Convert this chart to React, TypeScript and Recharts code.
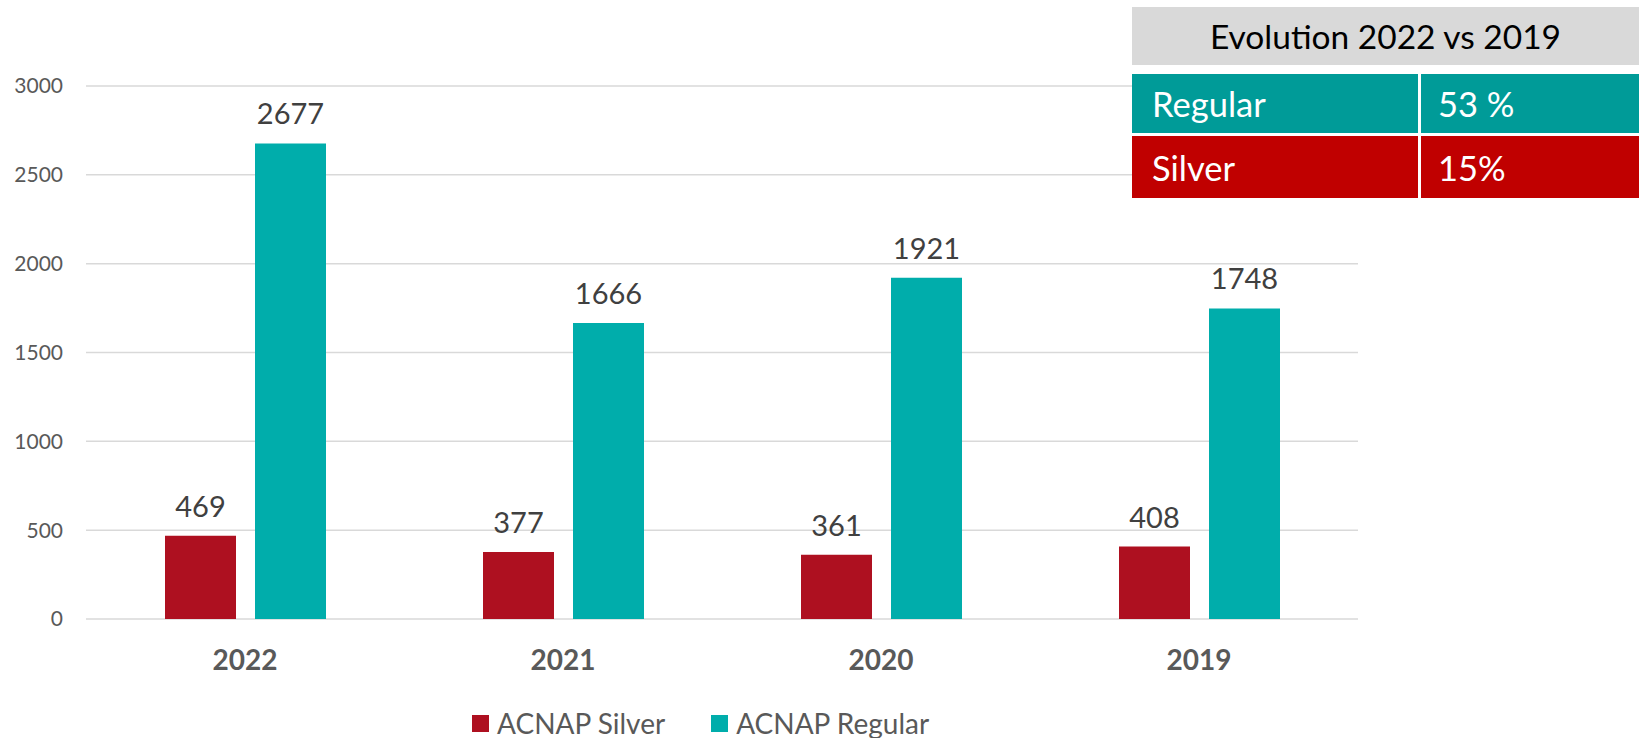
import React from 'react';
import { BarChart, Bar, XAxis, YAxis, CartesianGrid, Legend, LabelList } from 'recharts';

// Values
const years = ['2022', '2021', '2020', '2019'];
const silver = [469, 377, 361, 408];
const regular = [2677, 1666, 1921, 1748];
const yTicks = [0, 500, 1000, 1500, 2000, 2500, 3000];

const evolutionTitle = 'Evolution 2022 vs 2019';
const evolutionRows = [
  { name: 'Regular', value: '53 %', color: '#009b98' },
  { name: 'Silver', value: '15%', color: '#c00000' },
];

const SILVER = '#ae1020';
const REGULAR = '#00adab';
const FONT = 'Lato, "Open Sans", sans-serif';

const data = years.map((y, i) => ({ year: y, silver: silver[i], regular: regular[i] }));

const legendItems = [
  { label: 'ACNAP Silver', color: SILVER },
  { label: 'ACNAP Regular', color: REGULAR },
];

const renderLegend = () => (
  <div style={{ display: 'flex', alignItems: 'center', fontFamily: FONT, fontSize: 28, color: '#595959' }}>
    {legendItems.map((it, i) => (
      <div key={it.label} style={{ display: 'flex', alignItems: 'center', marginRight: i === 0 ? 46 : 0 }}>
        <span style={{ display: 'inline-block', width: 17, height: 17, background: it.color, marginRight: 8 }} />
        <span>{it.label}</span>
      </div>
    ))}
  </div>
);

export default function App() {
  return (
    <div style={{ position: 'absolute', left: 0, top: 0, width: 1639, height: 738, background: '#fff' }}>
      <BarChart
        width={1639}
        height={738}
        data={data}
        margin={{ top: 86, right: 281, bottom: 79, left: 0 }}
        barGap={19}
        barSize={71}
      >
        <CartesianGrid vertical={false} stroke="#d9d9d9" strokeWidth={1.5} />
        <XAxis
          dataKey="year"
          height={40}
          axisLine={false}
          tickLine={false}
          tickSize={0}
          tickMargin={31}
          tick={{ fontFamily: FONT, fontSize: 28, fontWeight: 700, fill: '#595959' }}
        />
        <YAxis
          width={86}
          domain={[0, 3000]}
          ticks={yTicks}
          axisLine={false}
          tickLine={false}
          tickSize={0}
          tickMargin={23}
          tick={{ fontFamily: FONT, fontSize: 21, fill: '#595959' }}
        />
        <Legend
          layout="horizontal"
          verticalAlign="middle"
          align="center"
          content={renderLegend}
          wrapperStyle={{ top: 706, left: 472, width: 560, height: 34 }}
        />
        <Bar dataKey="silver" name="ACNAP Silver" fill={SILVER} isAnimationActive={false}>
          <LabelList dataKey="silver" position="top" offset={19} style={{ fontFamily: FONT, fontSize: 29, fill: '#404040' }} />
        </Bar>
        <Bar dataKey="regular" name="ACNAP Regular" fill={REGULAR} isAnimationActive={false}>
          <LabelList dataKey="regular" position="top" offset={19} style={{ fontFamily: FONT, fontSize: 29, fill: '#404040' }} />
        </Bar>
      </BarChart>

      {/* evolution table, top right */}
      <div style={{ position: 'absolute', left: 1132, top: 7, width: 507, fontFamily: FONT, background: '#fff' }}>
        <div style={{ height: 58, background: '#d9d9d9', display: 'flex', alignItems: 'center', justifyContent: 'center', fontSize: 33.5, color: '#000' }}>
          {evolutionTitle}
        </div>
        <div style={{ height: 9 }} />
        {evolutionRows.map((r, i) => (
          <div key={r.name} style={{ display: 'flex', height: i === 0 ? 59 : 62, marginTop: i === 0 ? 0 : 3 }}>
            <div style={{ width: 286, background: r.color, color: '#fff', fontSize: 34.5, display: 'flex', alignItems: 'center', paddingLeft: 20, boxSizing: 'border-box' }}>
              {r.name}
            </div>
            <div style={{ width: 3 }} />
            <div style={{ flex: 1, background: r.color, color: '#fff', fontSize: 34.5, display: 'flex', alignItems: 'center', paddingLeft: 17, boxSizing: 'border-box' }}>
              {r.value}
            </div>
          </div>
        ))}
      </div>
    </div>
  );
}
